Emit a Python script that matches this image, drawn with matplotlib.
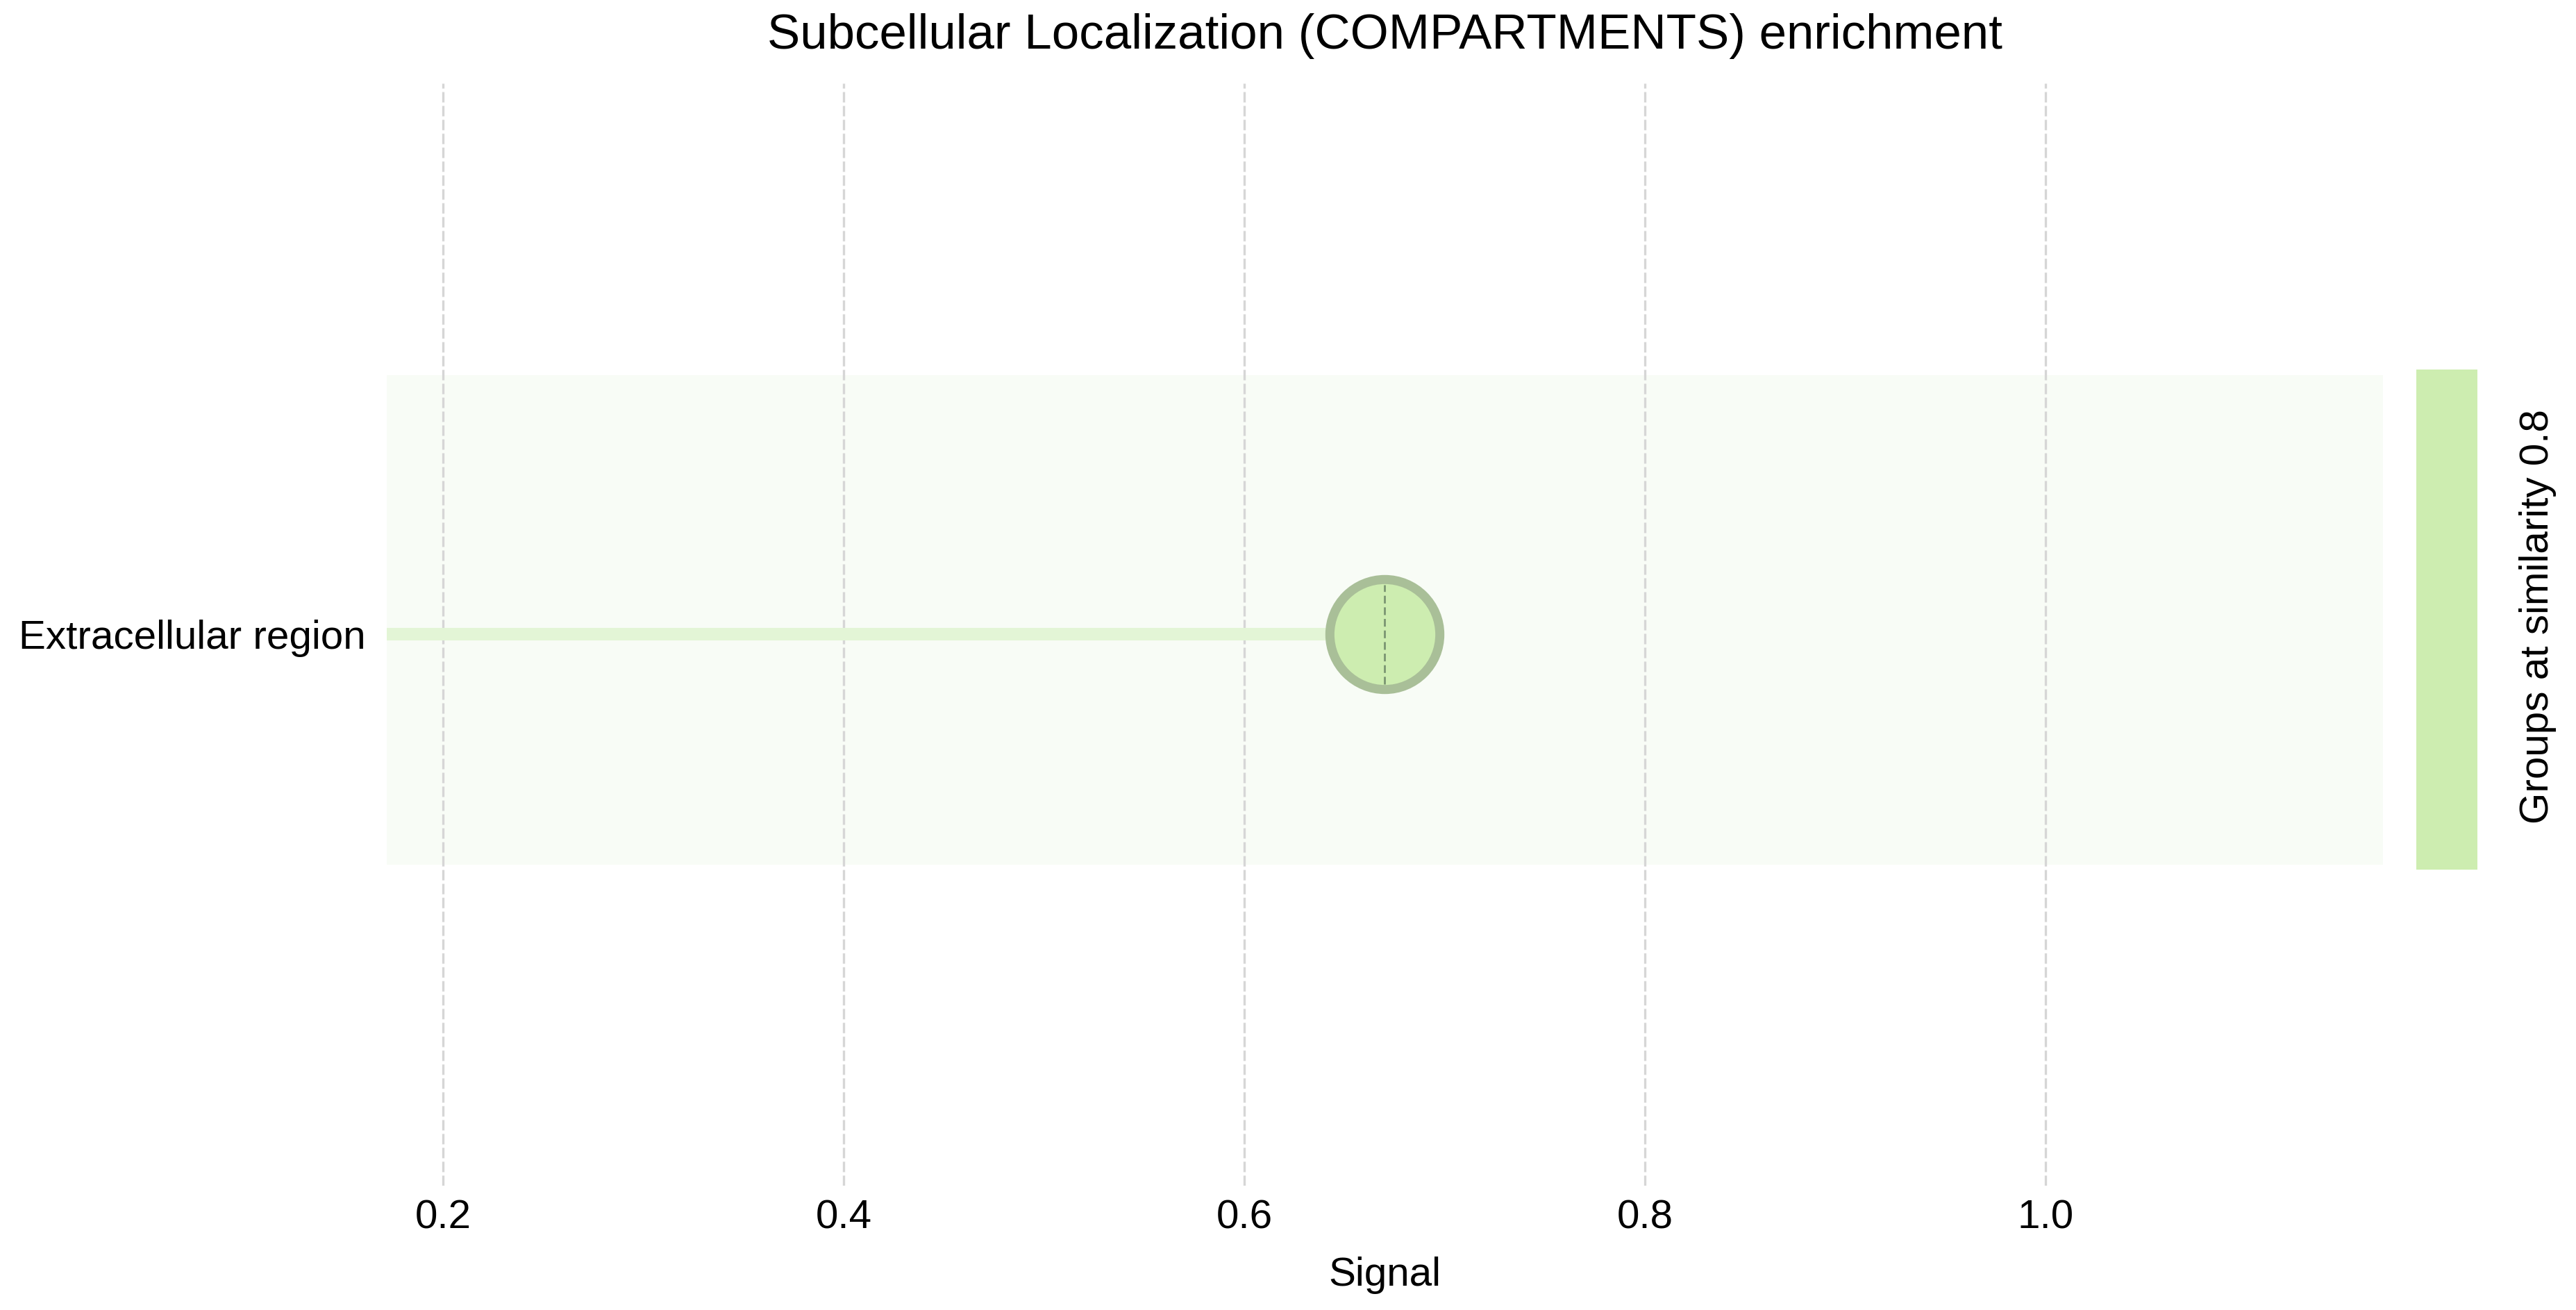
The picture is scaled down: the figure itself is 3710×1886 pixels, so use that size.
#!/usr/bin/env python
"""
Lollipop chart of COMPARTMENTS enrichment signal.
"""

import numpy as np
import matplotlib
matplotlib.use("Agg")
import matplotlib.pyplot as plt

### Data ###
terms = ["Extracellular region"]
signal = [0.67]
groups = [0]
similarity = 0.8
xticks = [0.2, 0.4, 0.6, 0.8, 1.0]

### Style ###
plt.rcParams['font.family'] = ['Liberation Sans', 'DejaVu Sans']
FS = 21
GREEN = '#cdedb0'
EDGE = '#a9bf98'
STEM = '#e3f5d6'
BAND = '#f8fcf6'

fig = plt.figure(figsize=(18.55, 9.43), dpi=200)
ax = fig.add_axes([0.1501, 0.0949, 0.775, 0.8415])

ypos = np.arange(len(terms))

# band behind each group of rows
for g in set(groups):
    ax.axhspan(-0.418, 0.471, xmin=0, xmax=1, color=BAND, zorder=0.2, lw=0)

# stems and markers
for y, s in zip(ypos, signal):
    ax.plot([0.1719, s], [y, y], color=STEM, lw=6.5, solid_capstyle='butt', zorder=2)
ax.plot(signal, ypos, 'o', ms=57, mfc=GREEN, mec=EDGE, mew=4.7, zorder=3)
for y, s in zip(ypos, signal):
    ax.plot([s, s], [y - 0.09, y + 0.09], color='#7a9572', lw=1.0,
            dashes=(4, 2), zorder=4)

ax.set_xlim(0.1719, 1.1685)
ax.set_ylim(-1, 1)
ax.set_xticks(xticks)
ax.set_xticklabels([f"{t:.1f}" for t in xticks], fontsize=FS)
ax.set_yticks(ypos)
ax.set_yticklabels(terms, fontsize=FS)
ax.tick_params(axis='x', length=0, pad=7)
ax.tick_params(axis='y', length=0, pad=11)
ax.set_axisbelow(True)
ax.grid(axis='x', color='#d6d6d6', lw=1.2, dashes=(4.5, 1.5))
ax.grid(axis='y', visible=False)
for sp in ax.spines.values():
    sp.set_visible(False)

# group bar on the right
gax = fig.add_axes([3480 / 3710, 0.0949, 88 / 3710, 0.8415], sharey=ax)
gax.axhspan(-0.4266, 0.4808, color=GREEN, lw=0)
gax.set_xlim(0, 1)
gax.axis('off')
fig.text(3655 / 3710, 1 - 888 / 1886, f"Groups at similarity {similarity}",
         rotation=90, ha='center', va='center', fontsize=FS)

# title and x label
fig.text(1994 / 3710, 1 - 52 / 1886, "Subcellular Localization (COMPARTMENTS) enrichment",
         ha='center', va='center', fontsize=25.5)
fig.text(1994 / 3710, 1 - 1851 / 1886, "Signal", ha='center', va='baseline', fontsize=FS)

fig.savefig("out.png", dpi=200)
